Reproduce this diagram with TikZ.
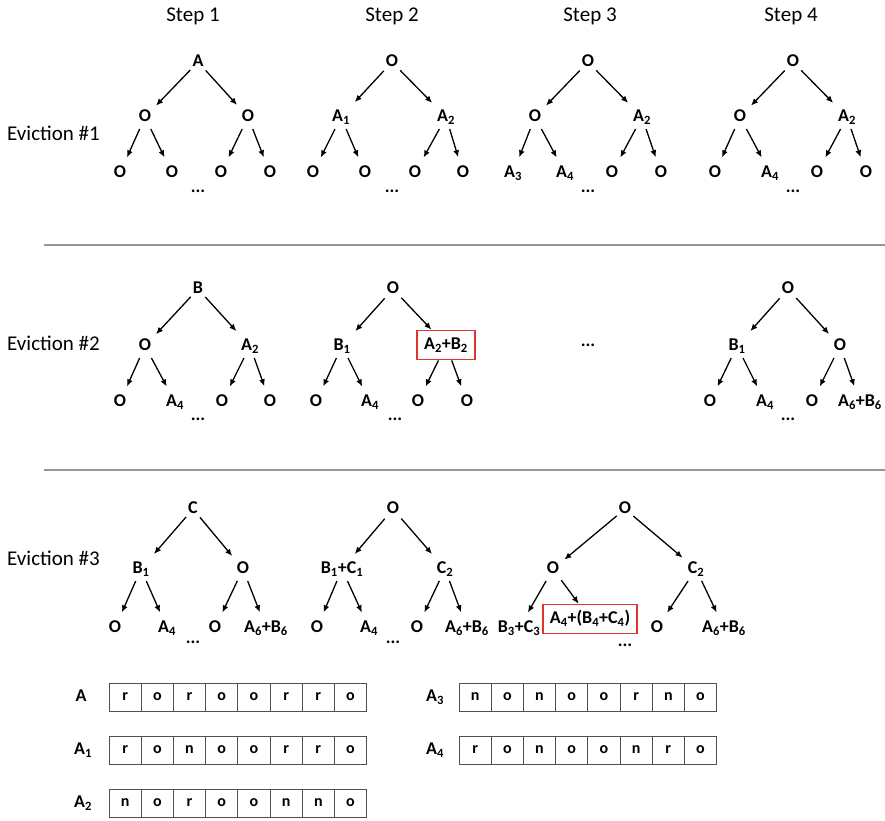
\documentclass[tikz,border=0pt]{standalone}
\usepackage{fontspec}
\setmainfont{Carlito}
\usetikzlibrary{positioning,arrows.meta}
\definecolor{boxred}{RGB}{224,52,44}
\definecolor{rulegray}{RGB}{150,150,150}
\definecolor{cellgray}{RGB}{80,80,80}

\begin{document}
\begin{tikzpicture}[x=1pt,y=-1pt,
  nd/.style={font=\bfseries\fontsize{18}{20}\selectfont, inner sep=2pt, outer ysep=1.75pt, text height=13pt, text depth=3.5pt},
  hl/.style={draw=boxred, line width=1.8pt, font=\bfseries\fontsize{18}{20}\selectfont, inner xsep=7pt, inner ysep=6.25pt, text height=13pt, text depth=3.5pt},
  dots/.style={font=\bfseries\fontsize{18}{20}\selectfont, inner sep=0pt},
  arr/.style={-{Latex[length=7pt,width=6pt]}, line width=1.3pt, shorten >=4pt},
  arrb/.style={-{Latex[length=7pt,width=6pt]}, line width=1.3pt},
  hd/.style={font=\fontsize{21}{25}\selectfont, inner sep=0pt},
  cell/.style={draw=cellgray, line width=0.8pt, minimum width=32.2pt, minimum height=28pt, inner sep=0pt, font=\bfseries\fontsize{16}{18}\selectfont}]
\useasboundingbox (0,0) rectangle (885,820);

% headings
\node[hd] (h1) at (193,16) {Step 1};
\node[hd] (h2) at (392,16) {Step 2};
\node[hd] (h3) at (590,16) {Step 3};
\node[hd] (h4) at (791,16) {Step 4};
\node[hd, anchor=west] (ev1) at (7,133) {Eviction \#1};
\node[hd, anchor=west] (ev2) at (7,343) {Eviction \#2};
\node[hd, anchor=west] (ev3) at (7,558) {Eviction \#3};

% separators
\coordinate (s1a) at (44,245); \coordinate (s1b) at (885,245);
\coordinate (s2a) at (44,470); \coordinate (s2b) at (885,470);
\draw[rulegray, line width=1.4pt] (s1a) -- (s1b);
\draw[rulegray, line width=1.4pt] (s2a) -- (s2b);

% eviction 1, step 1
\node[nd] (e1s1r) at (198,62) {A};
\node[nd] (e1s1a) at (145,117) {O};
\node[nd] (e1s1b) at (248,117) {O};
\node[nd] (e1s1aa) at (120,173) {O};
\node[nd] (e1s1ab) at (172,173) {O};
\node[nd] (e1s1ba) at (221,173) {O};
\node[nd] (e1s1bb) at (270,173) {O};
\node[dots] (e1s1d) at (198,191) {...};
\draw[arr] (e1s1r) -- (e1s1a); \draw[arr] (e1s1r) -- (e1s1b);
\draw[arr] (e1s1a) -- (e1s1aa); \draw[arr] (e1s1a) -- (e1s1ab);
\draw[arr] (e1s1b) -- (e1s1ba); \draw[arr] (e1s1b) -- (e1s1bb);

% eviction 1, step 2
\node[nd] (e1s2r) at (392,62) {O};
\node[nd] (e1s2a) at (341,117) {A\textsubscript{1}};
\node[nd] (e1s2b) at (446,117) {A\textsubscript{2}};
\node[nd] (e1s2aa) at (313,173) {O};
\node[nd] (e1s2ab) at (365,173) {O};
\node[nd] (e1s2ba) at (415,173) {O};
\node[nd] (e1s2bb) at (463,173) {O};
\node[dots] (e1s2d) at (392,191) {...};
\draw[arr] (e1s2r) -- (e1s2a); \draw[arr] (e1s2r) -- (e1s2b);
\draw[arr] (e1s2a) -- (e1s2aa); \draw[arr] (e1s2a) -- (e1s2ab);
\draw[arr] (e1s2b) -- (e1s2ba); \draw[arr] (e1s2b) -- (e1s2bb);

% eviction 1, step 3
\node[nd] (e1s3r) at (588,62) {O};
\node[nd] (e1s3a) at (535,117) {O};
\node[nd] (e1s3b) at (642,117) {A\textsubscript{2}};
\node[nd] (e1s3aa) at (513,173) {A\textsubscript{3}};
\node[nd] (e1s3ab) at (565,173) {A\textsubscript{4}};
\node[nd] (e1s3ba) at (612,173) {O};
\node[nd] (e1s3bb) at (661,173) {O};
\node[dots] (e1s3d) at (588,191) {...};
\draw[arr] (e1s3r) -- (e1s3a); \draw[arr] (e1s3r) -- (e1s3b);
\draw[arr] (e1s3a) -- (e1s3aa); \draw[arr] (e1s3a) -- (e1s3ab);
\draw[arr] (e1s3b) -- (e1s3ba); \draw[arr] (e1s3b) -- (e1s3bb);

% eviction 1, step 4
\node[nd] (e1s4r) at (793,62) {O};
\node[nd] (e1s4a) at (740,117) {O};
\node[nd] (e1s4b) at (847,117) {A\textsubscript{2}};
\node[nd] (e1s4aa) at (715,173) {O};
\node[nd] (e1s4ab) at (770,173) {A\textsubscript{4}};
\node[nd] (e1s4ba) at (817,173) {O};
\node[nd] (e1s4bb) at (866,173) {O};
\node[dots] (e1s4d) at (793,191) {...};
\draw[arr] (e1s4r) -- (e1s4a); \draw[arr] (e1s4r) -- (e1s4b);
\draw[arr] (e1s4a) -- (e1s4aa); \draw[arr] (e1s4a) -- (e1s4ab);
\draw[arr] (e1s4b) -- (e1s4ba); \draw[arr] (e1s4b) -- (e1s4bb);

% eviction 2, step 1
\node[nd] (e2s1r) at (198,289) {B};
\node[nd] (e2s1a) at (145,346) {O};
\node[nd] (e2s1b) at (250,346) {A\textsubscript{2}};
\node[nd] (e2s1aa) at (120,402) {O};
\node[nd] (e2s1ab) at (175,402) {A\textsubscript{4}};
\node[nd] (e2s1ba) at (222,402) {O};
\node[nd] (e2s1bb) at (270,402) {O};
\node[dots] (e2s1d) at (198,419) {...};
\draw[arr] (e2s1r) -- (e2s1a); \draw[arr] (e2s1r) -- (e2s1b);
\draw[arr] (e2s1a) -- (e2s1aa); \draw[arr] (e2s1a) -- (e2s1ab);
\draw[arr] (e2s1b) -- (e2s1ba); \draw[arr] (e2s1b) -- (e2s1bb);

% eviction 2, step 2
\node[nd] (e2s2r) at (393,289) {O};
\node[nd] (e2s2a) at (342,346) {B\textsubscript{1}};
\node[hl] (e2s2b) at (446,345) {A\textsubscript{2}+B\textsubscript{2}};
\node[nd] (e2s2aa) at (316,402) {O};
\node[nd] (e2s2ab) at (370,402) {A\textsubscript{4}};
\node[nd] (e2s2ba) at (418,402) {O};
\node[nd] (e2s2bb) at (467,402) {O};
\node[dots] (e2s2d) at (395,419) {...};
\draw[arr] (e2s2r) -- (e2s2a); \draw[arrb] (e2s2r) -- (e2s2b);
\draw[arr] (e2s2a) -- (e2s2aa); \draw[arr] (e2s2a) -- (e2s2ab);
\draw[arr] (e2s2b) -- (e2s2ba); \draw[arr] (e2s2b) -- (e2s2bb);

\node[dots] (e2s3d) at (588,345) {...};

% eviction 2, step 4
\node[nd] (e2s4r) at (788,289) {O};
\node[nd] (e2s4a) at (737,346) {B\textsubscript{1}};
\node[nd] (e2s4b) at (840,346) {O};
\node[nd] (e2s4aa) at (710,402) {O};
\node[nd] (e2s4ab) at (765,402) {A\textsubscript{4}};
\node[nd] (e2s4ba) at (812,402) {O};
\node[nd] (e2s4bb) at (860,402) {A\textsubscript{6}+B\textsubscript{6}};
\node[dots] (e2s4d) at (788,419) {...};
\draw[arr] (e2s4r) -- (e2s4a); \draw[arr] (e2s4r) -- (e2s4b);
\draw[arr] (e2s4a) -- (e2s4aa); \draw[arr] (e2s4a) -- (e2s4ab);
\draw[arr] (e2s4b) -- (e2s4ba); \draw[arr] (e2s4b) -- (e2s4bb);

% eviction 3, step 1
\node[nd] (e3s1r) at (193,509) {C};
\node[nd] (e3s1a) at (141,569) {B\textsubscript{1}};
\node[nd] (e3s1b) at (243,569) {O};
\node[nd] (e3s1aa) at (115,628) {O};
\node[nd] (e3s1ab) at (167,628) {A\textsubscript{4}};
\node[nd] (e3s1ba) at (215,628) {O};
\node[nd] (e3s1bb) at (266,628) {A\textsubscript{6}+B\textsubscript{6}};
\node[dots] (e3s1d) at (193,642) {...};
\draw[arr] (e3s1r) -- (e3s1a); \draw[arr] (e3s1r) -- (e3s1b);
\draw[arr] (e3s1a) -- (e3s1aa); \draw[arr] (e3s1a) -- (e3s1ab);
\draw[arr] (e3s1b) -- (e3s1ba); \draw[arr] (e3s1b) -- (e3s1bb);

% eviction 3, step 2
\node[nd] (e3s2r) at (393,509) {O};
\node[nd] (e3s2a) at (342,569) {B\textsubscript{1}+C\textsubscript{1}};
\node[nd] (e3s2b) at (445,569) {C\textsubscript{2}};
\node[nd] (e3s2aa) at (317,628) {O};
\node[nd] (e3s2ab) at (369,628) {A\textsubscript{4}};
\node[nd] (e3s2ba) at (417,628) {O};
\node[nd] (e3s2bb) at (467,628) {A\textsubscript{6}+B\textsubscript{6}};
\node[dots] (e3s2d) at (393,642) {...};
\draw[arr] (e3s2r) -- (e3s2a); \draw[arr] (e3s2r) -- (e3s2b);
\draw[arr] (e3s2a) -- (e3s2aa); \draw[arr] (e3s2a) -- (e3s2ab);
\draw[arr] (e3s2b) -- (e3s2ba); \draw[arr] (e3s2b) -- (e3s2bb);

% eviction 3, step 3
\node[nd] (e3s3r) at (625,509) {O};
\node[nd] (e3s3a) at (553,569) {O};
\node[nd] (e3s3b) at (696,569) {C\textsubscript{2}};
\node[nd] (e3s3aa) at (519,628) {B\textsubscript{3}+C\textsubscript{3}};
\node[hl] (e3s3ab) at (590,619) {A\textsubscript{4}+(B\textsubscript{4}+C\textsubscript{4})};
\node[nd] (e3s3ba) at (657,628) {O};
\node[nd] (e3s3bb) at (724,628) {A\textsubscript{6}+B\textsubscript{6}};
\node[dots] (e3s3d) at (625,645) {...};
\draw[arr] (e3s3r) -- (e3s3a); \draw[arr] (e3s3r) -- (e3s3b);
\draw[arr] (e3s3a) -- (e3s3aa); \draw[arrb] (e3s3a) -- (e3s3ab);
\draw[arr] (e3s3b) -- (e3s3ba); \draw[arr] (e3s3b) -- (e3s3bb);

% bit arrays
\node[nd] (lA) at (81,697) {A};
\foreach \v [count=\i] in {r,o,r,o,o,r,r,o}
  \node[cell] (A-\i) at ({109+32.2*(\i-0.5)},697) {\v};
\node[nd] (lA1) at (83,750) {A\textsubscript{1}};
\foreach \v [count=\i] in {r,o,n,o,o,r,r,o}
  \node[cell] (Aa-\i) at ({109+32.2*(\i-0.5)},750) {\v};
\node[nd] (lA2) at (83,803) {A\textsubscript{2}};
\foreach \v [count=\i] in {n,o,r,o,o,n,n,o}
  \node[cell] (Ab-\i) at ({109+32.2*(\i-0.5)},803) {\v};
\node[nd] (lA3) at (435,697) {A\textsubscript{3}};
\foreach \v [count=\i] in {n,o,n,o,o,r,n,o}
  \node[cell] (Ac-\i) at ({459+32.2*(\i-0.5)},697) {\v};
\node[nd] (lA4) at (435,750) {A\textsubscript{4}};
\foreach \v [count=\i] in {r,o,n,o,o,n,r,o}
  \node[cell] (Ad-\i) at ({459+32.2*(\i-0.5)},750) {\v};
\end{tikzpicture}
\end{document}
